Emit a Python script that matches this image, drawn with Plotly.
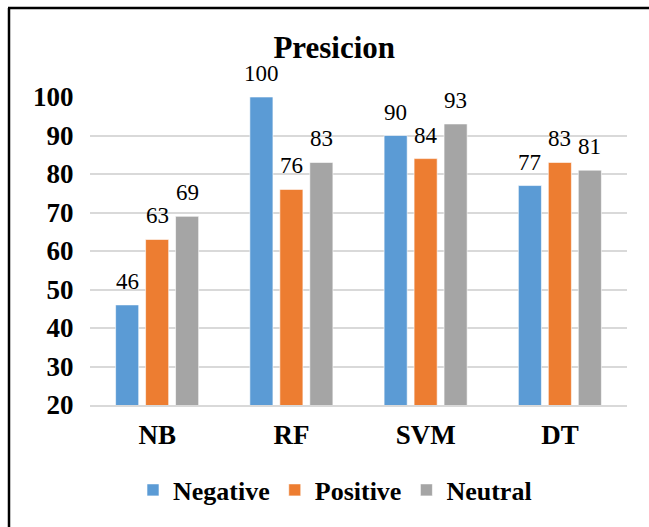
import plotly.graph_objects as go

# Classifier precision per sentiment class
models = ["NB", "RF", "SVM", "DT"]
negative = [46, 100, 90, 77]
positive = [63, 76, 84, 83]
neutral = [69, 83, 93, 81]

series = [
    ("Negative", negative, "#5B9BD5"),
    ("Positive", positive, "#ED7D31"),
    ("Neutral", neutral, "#A5A5A5"),
]

FONT = "Liberation Serif"

W, H = 649, 527
L, R, T, B = 90, 22, 97, 122
pw, ph = W - L - R, H - T - B
BARGAP = 0.33
BARGROUPGAP = 0.23


def px_x(p):
    return (p - L) / pw


def px_y(p):
    return (H - B - p) / ph


fig = go.Figure()
for name, vals, color in series:
    fig.add_trace(go.Bar(
        x=models, y=vals, name=f"<b>{name}</b>",
        marker=dict(color=color, line=dict(color="white", width=0.6)),
        cliponaxis=False,
    ))

# value labels above each bar, offset horizontally to each bar's slot
slot_px = pw / len(models) * (1 - BARGAP) / len(series)
for i, (name, vals, color) in enumerate(series):
    offset = (i - (len(series) - 1) / 2) * slot_px
    for m, v in zip(models, vals):
        fig.add_annotation(
            x=m, y=v, xref="x", yref="y", text=str(v), showarrow=False,
            xanchor="center", yanchor="bottom", xshift=offset, yshift=9,
            font=dict(family=FONT, size=23, color="#000000"),
        )

fig.update_layout(
    width=W, height=H,
    margin=dict(l=L, r=R, t=T, b=B, pad=0),
    paper_bgcolor="white", plot_bgcolor="white",
    barmode="group", bargap=BARGAP, bargroupgap=BARGROUPGAP,
    font=dict(family=FONT, color="#000000"),
    title=dict(text="<b>Presicion</b>", xref="container", yref="container",
               x=0.515, y=1 - 47 / H, xanchor="center", yanchor="middle",
               font=dict(family=FONT, size=31, color="#000000")),
    legend=dict(orientation="h", xref="paper", yref="paper",
                x=px_x(335), y=px_y(490), xanchor="center", yanchor="middle",
                font=dict(family=FONT, size=26, color="#000000"),
                itemwidth=30, traceorder="normal"),
    showlegend=True,
    shapes=[
        dict(type="line", xref="paper", yref="paper",
             x0=px_x(8), x1=px_x(652), y0=px_y(8), y1=px_y(8),
             line=dict(color="black", width=2.5)),
        dict(type="line", xref="paper", yref="paper",
             x0=px_x(9), x1=px_x(9), y0=px_y(8), y1=px_y(530),
             line=dict(color="black", width=2.5)),
    ],
)

fig.update_yaxes(
    range=[20, 100], dtick=10, tick0=20,
    showgrid=True, gridcolor="#D9D9D9", gridwidth=1.5,
    zeroline=False, showline=False,
    ticks="outside", ticklen=10, tickcolor="rgba(0,0,0,0)",
    tickfont=dict(family=FONT, size=27, color="#000000"),
    tickprefix="<b>", ticksuffix="</b>",
)
fig.update_xaxes(
    showline=True, linecolor="#D9D9D9", linewidth=2,
    showgrid=False,
    ticks="outside", ticklen=5, tickcolor="rgba(0,0,0,0)",
    tickfont=dict(family=FONT, size=27, color="#000000"),
    tickvals=models, ticktext=[f"<b>{m}</b>" for m in models],
)

fig.write_html("out.html")
